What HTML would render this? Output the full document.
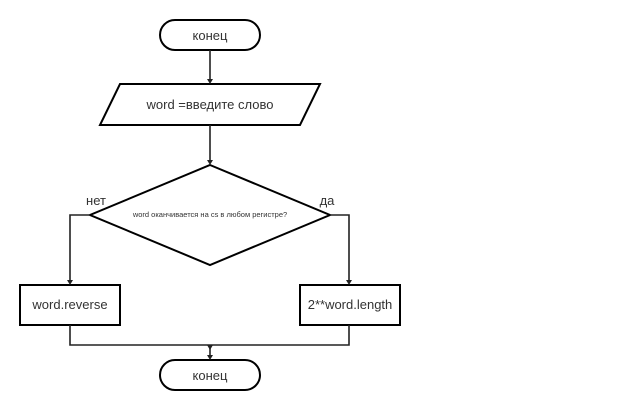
<!DOCTYPE html>
<html><head><meta charset="utf-8"><style>
html,body{margin:0;padding:0;background:#fff;}
svg{display:block;}
text{font-family:"Liberation Sans",Arial,sans-serif;fill:#333;}
</style></head><body>
<svg width="640" height="410" viewBox="0 0 640 410" xmlns="http://www.w3.org/2000/svg">
<g fill="none" stroke="#000" stroke-width="2">
<rect x="160" y="20" width="100" height="30" rx="15" ry="15"/>
<polygon points="120,84 320,84 300,125 100,125"/>
<polygon points="210,165 330,215 210,265 90,215"/>
<rect x="20" y="285" width="100" height="40"/>
<rect x="300" y="285" width="100" height="40"/>
<rect x="160" y="360" width="100" height="30" rx="15" ry="15"/>
</g>
<g fill="none" stroke="#222" stroke-width="1.6">
<line x1="210" y1="50" x2="210" y2="81"/>
<line x1="210" y1="125" x2="210" y2="162"/>
<polyline points="90,215 70,215 70,282"/>
<polyline points="330,215 349,215 349,282"/>
<polyline points="70,325 70,345 349,345 349,325"/>
<line x1="210" y1="345" x2="210" y2="357"/>
</g>
<g fill="#222">
<polygon points="207,79 213,79 210,84"/>
<polygon points="207,160 213,160 210,165"/>
<polygon points="67,280 73,280 70,285"/>
<polygon points="346,280 352,280 349,285"/>
<polygon points="207,355 213,355 210,360"/>
<polygon points="207,345 213,345 210,350"/>
</g>
<text x="210" y="40" font-size="13" text-anchor="middle">конец</text>
<text x="210" y="109" font-size="13" text-anchor="middle">word =введите слово</text>
<text x="210" y="217" font-size="7.5" text-anchor="middle">word оканчивается на cs в любом регистре?</text>
<text x="96" y="205" font-size="13" text-anchor="middle">нет</text>
<text x="327" y="205" font-size="13" text-anchor="middle">да</text>
<text x="70" y="309" font-size="13" text-anchor="middle">word.reverse</text>
<text x="350" y="309" font-size="13" text-anchor="middle">2**word.length</text>
<text x="210" y="380" font-size="13" text-anchor="middle">конец</text>
</svg>
</body></html>
